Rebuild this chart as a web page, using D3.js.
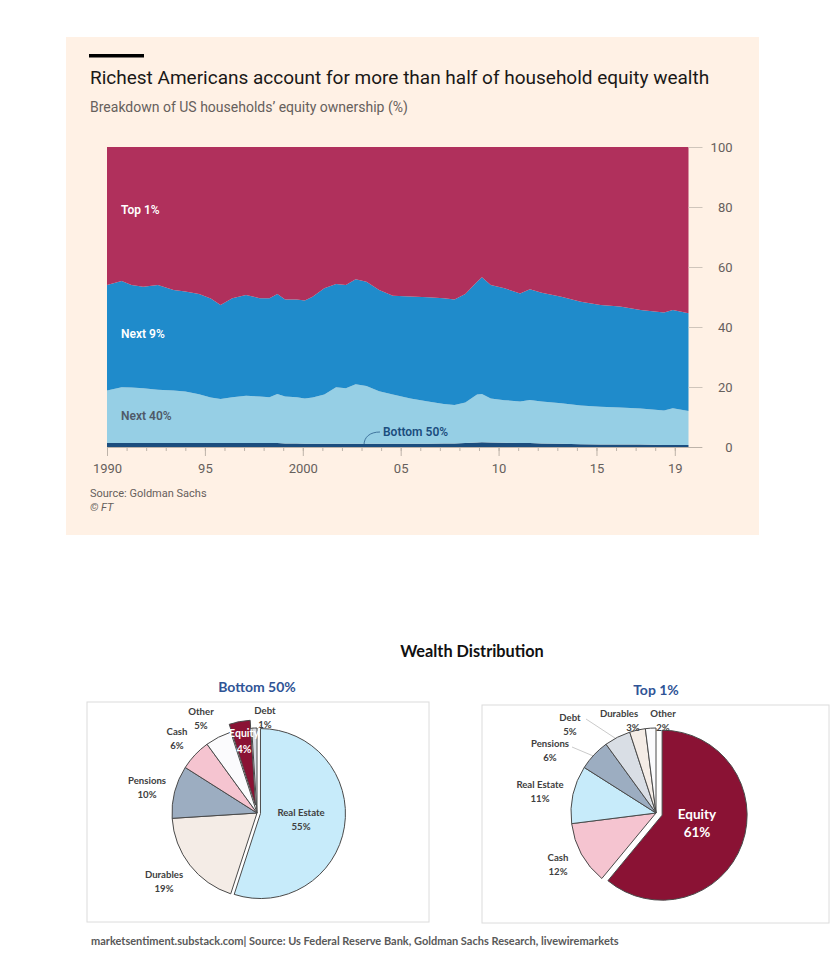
<!DOCTYPE html>
<html>
<head>
<meta charset="utf-8">
<script src="https://cdn.jsdelivr.net/npm/d3@7"></script>
<style>
  body { margin: 0; background: #ffffff; }
  svg { display: block; }
</style>
</head>
<body>
<div id="chart"></div>
<script>
// ---- data ----

// FT area chart: share of household equity (%) by group
var years = [1990.0, 1990.75, 1991.25, 1991.85, 1992.6, 1993.4, 1994.0, 1994.7, 1995.3, 1995.8,
  1996.4, 1997.1, 1997.8, 1998.3, 1998.7, 1999.1, 1999.7, 2000.1, 2000.5, 2001.1,
  2001.7, 2002.2, 2002.7, 2003.25, 2003.9, 2004.6, 2005.5, 2006.4, 2007.2, 2007.75,
  2008.3, 2008.9, 2009.15, 2009.6, 2010.3, 2011.1, 2011.6, 2012.2, 2013.2, 2014.2,
  2015.2, 2016.2, 2017.25, 2018.45, 2018.9, 2019.7];

var bottom50 = [1.3, 1.3, 1.3, 1.3, 1.3, 1.3, 1.3, 1.3, 1.3, 1.3,
  1.3, 1.3, 1.3, 1.3, 1.3, 1.2, 1.2, 1.1, 1.1, 1.1,
  1.1, 1.1, 1.1, 1.1, 1.1, 1.1, 1.1, 1.1, 1.2, 1.2,
  1.3, 1.5, 1.6, 1.5, 1.4, 1.3, 1.3, 1.2, 1.1, 0.9,
  0.8, 0.8, 0.8, 0.7, 0.7, 0.7];

var next40 = [17.5, 18.6, 18.5, 18.3, 17.8, 17.5, 17.2, 16.3, 15.2, 14.7,
  15.3, 15.8, 15.5, 15.3, 16.4, 15.6, 15.4, 15.1, 15.4, 16.4,
  18.8, 18.5, 19.8, 19.2, 17.5, 16.4, 15.1, 14.1, 13.1, 12.8,
  13.5, 16.0, 16.1, 14.7, 14.2, 13.9, 14.4, 14.0, 13.5, 12.9,
  12.6, 12.4, 12.0, 11.5, 12.2, 11.3];

var next9 = [35.2, 35.4, 34.2, 33.8, 34.9, 33.5, 33.3, 33.4, 33.0, 31.3,
  33.0, 33.6, 32.8, 33.0, 33.3, 32.4, 32.6, 32.6, 33.6, 35.4,
  34.4, 34.4, 35.0, 34.8, 33.7, 32.9, 34.0, 34.7, 35.3, 35.2,
  36.2, 37.6, 38.9, 37.8, 37.3, 36.0, 36.9, 36.2, 35.5, 34.6,
  33.9, 33.6, 32.9, 32.6, 32.8, 32.6];

var top1 = [46.0, 44.7, 46.0, 46.6, 46.0, 47.7, 48.2, 49.0, 50.5, 52.7,
  50.4, 49.3, 50.4, 50.4, 49.0, 50.8, 50.8, 51.2, 49.9, 47.1,
  45.7, 46.0, 44.1, 44.9, 47.7, 49.6, 49.8, 50.1, 50.4, 50.8,
  49.0, 44.9, 43.4, 46.0, 47.1, 48.8, 47.4, 48.6, 49.9, 51.6,
  52.7, 53.2, 54.3, 55.2, 54.3, 55.4];

var groupKeys = ["Bottom 50%", "Next 40%", "Next 9%", "Top 1%"];
var yTicks = [0, 20, 40, 60, 80, 100];
var xMajorYears = [1990, 1995, 2000, 2005, 2010, 2015, 2019];
var xMajorLabels = ["1990", "95", "2000", "05", "10", "15", "19"];

// Wealth distribution pies (% of wealth by asset)
var bottomAssets = ["Real Estate", "Durables", "Pensions", "Cash", "Other", "Equity", "Debt"];
var bottomShares = [55, 19, 10, 6, 5, 4, 1];
var topAssets = ["Equity", "Cash", "Real Estate", "Pensions", "Debt", "Durables", "Other"];
var topShares = [61, 12, 11, 6, 5, 3, 2];

// ---- drawing ----

var W = 836, H = 980;
var svg = d3.select("#chart").append("svg")
  .attr("width", W)
  .attr("height", H);

var ftFont = "Roboto, 'Noto Sans', sans-serif";
var xlFont = "Lato, 'Open Sans', sans-serif";

// FT panel
svg.append("rect")
  .attr("x", 66).attr("y", 37)
  .attr("width", 693).attr("height", 498)
  .attr("fill", "#fff1e5");

svg.append("rect")
  .attr("x", 89).attr("y", 54)
  .attr("width", 55).attr("height", 3.5)
  .attr("fill", "#000000");

svg.append("text")
  .attr("x", 90).attr("y", 84)
  .attr("font-family", ftFont)
  .attr("font-size", 19)
  .attr("fill", "#1a1817")
  .text("Richest Americans account for more than half of household equity wealth");

svg.append("text")
  .attr("x", 90).attr("y", 112)
  .attr("font-family", ftFont)
  .attr("font-size", 14)
  .attr("fill", "#66605c")
  .text("Breakdown of US households\u2019 equity ownership (%)");

var x = d3.scaleLinear()
  .domain([1990, 2019.7])
  .range([107, 688.5]);

var y = d3.scaleLinear()
  .domain([0, 100])
  .range([447, 147]);

var rows = years.map(function(yr, i) {
  return {
    year: yr,
    "Bottom 50%": bottom50[i],
    "Next 40%": next40[i],
    "Next 9%": next9[i],
    "Top 1%": top1[i]
  };
});

var stacked = d3.stack().keys(groupKeys)(rows);

var areaColors = {
  "Bottom 50%": "#1b4d7e",
  "Next 40%": "#96cfe5",
  "Next 9%": "#1f8bcb",
  "Top 1%": "#b0305c"
};

var area = d3.area()
  .x(function(d) { return x(d.data.year); })
  .y0(function(d) { return y(d[0]); })
  .y1(function(d) { return y(d[1]); });

svg.append("g")
  .selectAll("path")
  .data(stacked)
  .enter()
  .append("path")
  .attr("d", area)
  .attr("fill", function(d) { return areaColors[d.key]; });

// right y axis
var yAxis = svg.append("g")
  .attr("transform", "translate(688.5,0)")
  .call(d3.axisRight(y).tickValues(yTicks).tickSize(14).tickFormat(d3.format("d")));
yAxis.select(".domain").remove();
yAxis.selectAll("line").attr("stroke", "#cfc5bb");
yAxis.selectAll("text")
  .attr("x", 44)
  .attr("text-anchor", "end")
  .attr("font-family", ftFont)
  .attr("font-size", 13)
  .attr("fill", "#66605c");

// bottom x axis: minor ticks every year, longer ones on labelled years
var minorYears = d3.range(1991, 2020);
var xMinor = svg.append("g")
  .attr("transform", "translate(0,447)")
  .call(d3.axisBottom(x).tickValues(minorYears).tickSize(4).tickFormat("").tickSizeOuter(0));
xMinor.select(".domain").remove();
xMinor.selectAll("line").attr("stroke", "#bdb3a9");

var xMajor = svg.append("g")
  .attr("transform", "translate(0,447)")
  .call(d3.axisBottom(x).tickValues(xMajorYears).tickSize(9).tickPadding(8).tickSizeOuter(0)
    .tickFormat(function(d, i) { return xMajorLabels[i]; }));
xMajor.select(".domain").remove();
xMajor.selectAll("line").attr("stroke", "#bdb3a9");
xMajor.selectAll("text")
  .attr("font-family", ftFont)
  .attr("font-size", 13)
  .attr("fill", "#66605c");

svg.append("line")
  .attr("x1", 107).attr("x2", 702)
  .attr("y1", 447.5).attr("y2", 447.5)
  .attr("stroke", "#bdb3a9");

// series labels
function areaLabel(txt, lx, ly, col) {
  svg.append("text")
    .attr("x", lx).attr("y", ly)
    .attr("font-family", ftFont)
    .attr("font-size", 12)
    .attr("font-weight", 600)
    .attr("fill", col)
    .text(txt);
}
areaLabel("Top 1%", 121, 214, "#ffffff");
areaLabel("Next 9%", 121, 338, "#ffffff");
areaLabel("Next 40%", 121, 420, "#4f5a68");
areaLabel("Bottom 50%", 383, 436, "#1b4d7e");

svg.append("path")
  .attr("d", "M364,445 C364,437 370,432 380,432")
  .attr("fill", "none")
  .attr("stroke", "#1b4d7e")
  .attr("stroke-width", 0.7);

svg.append("text")
  .attr("x", 90).attr("y", 497)
  .attr("font-family", ftFont)
  .attr("font-size", 11)
  .attr("fill", "#66605c")
  .text("Source: Goldman Sachs");

svg.append("text")
  .attr("x", 90).attr("y", 511)
  .attr("font-family", ftFont)
  .attr("font-size", 11)
  .attr("font-style", "italic")
  .attr("fill", "#66605c")
  .text("\u00a9 FT");

// ---- pies ----

svg.append("text")
  .attr("x", 472).attr("y", 657)
  .attr("text-anchor", "middle")
  .attr("font-family", xlFont)
  .attr("font-size", 16.3)
  .attr("font-weight", 700)
  .attr("fill", "#111111")
  .text("Wealth Distribution");

svg.append("text")
  .attr("x", 91).attr("y", 945)
  .attr("font-family", xlFont)
  .attr("font-size", 11)
  .attr("font-weight", 700)
  .attr("fill", "#595959")
  .text("marketsentiment.substack.com| Source: Us Federal Reserve Bank, Goldman Sachs Research, livewiremarkets");

var pieColors = {
  "Real Estate": "#c7ebfa",
  "Durables": "#f4ece6",
  "Pensions": "#9cadc1",
  "Cash": "#f5c4d0",
  "Other": "#fbfbfd",
  "Equity": "#8a1234",
  "Debt": "#d9dee5"
};

function drawPie(opts) {
  svg.append("rect")
    .attr("x", opts.box[0]).attr("y", opts.box[1])
    .attr("width", opts.box[2]).attr("height", opts.box[3])
    .attr("fill", "#ffffff")
    .attr("stroke", "#dcdcdc");

  svg.append("text")
    .attr("x", opts.cx).attr("y", opts.titleY)
    .attr("text-anchor", "middle")
    .attr("font-family", xlFont)
    .attr("font-size", 14)
    .attr("font-weight", 700)
    .attr("fill", "#2f5496")
    .text(opts.title);

  var data = opts.names.map(function(n, i) { return { name: n, value: opts.values[i] }; });
  var arcs = d3.pie().sort(null).value(function(d) { return d.value; })(data);
  var r = 85;
  var arc = d3.arc().innerRadius(0).outerRadius(r);

  var g = svg.append("g").attr("transform", "translate(" + opts.cx + "," + opts.cy + ")");

  // leader lines
  opts.leaders.forEach(function(ld) {
    var a = arcs[opts.names.indexOf(ld.name)];
    var mid = (a.startAngle + a.endAngle) / 2;
    g.append("line")
      .attr("x1", ld.from[0]).attr("y1", ld.from[1])
      .attr("x2", Math.sin(mid) * (r - 4)).attr("y2", -Math.cos(mid) * (r - 4))
      .attr("stroke", "#c4c4c4")
      .attr("stroke-width", 0.9);
  });

  g.selectAll("path.slice")
    .data(arcs)
    .enter()
    .append("path")
    .attr("class", "slice")
    .attr("d", arc)
    .attr("transform", function(d) {
      var off = opts.explode[d.data.name] || 0;
      var mid = (d.startAngle + d.endAngle) / 2;
      return "translate(" + (Math.sin(mid) * off) + "," + (-Math.cos(mid) * off) + ")";
    })
    .attr("fill", function(d) { return pieColors[d.data.name]; })
    .attr("stroke", "#4a4a4a")
    .attr("stroke-width", 1)
    .attr("stroke-linejoin", "round");

  opts.labels.forEach(function(lb) {
    var i = opts.names.indexOf(lb.name);
    var t = g.append("text")
      .attr("font-family", xlFont)
      .attr("font-size", lb.size || 9.6)
      .attr("font-weight", 700)
      .attr("fill", lb.color || "#404040")
      .attr("text-anchor", "middle");
    t.append("tspan")
      .attr("x", lb.pos[0]).attr("y", lb.pos[1])
      .text(lb.name);
    t.append("tspan")
      .attr("x", lb.pos[0] + (lb.dx2 || 0)).attr("y", lb.pos[1] + (lb.gap || 14))
      .text(opts.values[i] + "%");
  });
}

drawPie({
  title: "Bottom 50%",
  box: [87, 702, 342, 220],
  cx: 257, cy: 813, titleY: 692,
  names: bottomAssets,
  values: bottomShares,
  explode: { "Real Estate": 3.5, "Equity": 8 },
  labels: [
    { name: "Real Estate", pos: [44, 3] },
    { name: "Durables", pos: [-93, 65] },
    { name: "Pensions", pos: [-110, -29] },
    { name: "Cash", pos: [-80, -78] },
    { name: "Other", pos: [-56, -98] },
    { name: "Equity", pos: [-13, -76], size: 10.5, color: "#ffffff", gap: 16 },
    { name: "Debt", pos: [8, -99] }
  ],
  leaders: [
    { name: "Debt", from: [4, -88] }
  ]
});

drawPie({
  title: "Top 1%",
  box: [482, 705, 347, 218],
  cx: 656, cy: 813, titleY: 695,
  names: topAssets,
  values: topShares,
  explode: { "Equity": 6.5 },
  labels: [
    { name: "Equity", pos: [41, 6], size: 13.5, color: "#ffffff", gap: 18 },
    { name: "Cash", pos: [-98, 48] },
    { name: "Real Estate", pos: [-116, -25] },
    { name: "Pensions", pos: [-106, -66] },
    { name: "Debt", pos: [-86, -92] },
    { name: "Durables", pos: [-37, -96], dx2: 14 },
    { name: "Other", pos: [7, -96] }
  ],
  leaders: [
    { name: "Pensions", from: [-84, -66] },
    { name: "Debt", from: [-70, -94] },
    { name: "Durables", from: [-26, -83] },
    { name: "Other", from: [1, -83] }
  ]
});
</script>
</body>
</html>
